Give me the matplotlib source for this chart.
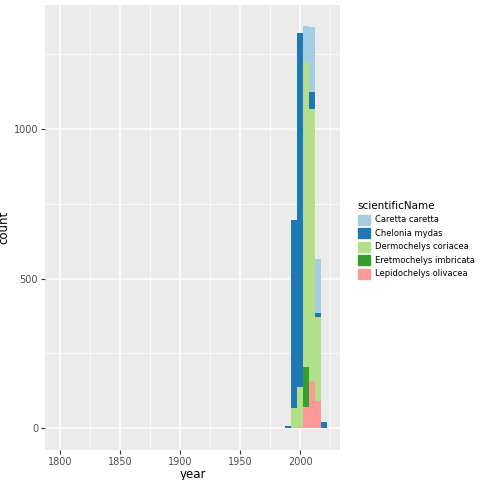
import numpy as np
import matplotlib.pyplot as plt

# histogram bins (5-year width), counts per species
bin_centers = [1800, 1990, 1995, 2000, 2005, 2010, 2015, 2020]
species = ['Caretta caretta', 'Chelonia mydas', 'Dermochelys coriacea',
           'Eretmochelys imbricata', 'Lepidochelys olivacea']
colors = ['#A6CEE3', '#1F78B4', '#B2DF8A', '#33A02C', '#FB9A99']

caretta = [0, 0, 0, 0, 119, 217, 178, 0]
chelonia = [0, 7, 628, 1184, 0, 57, 14, 21]
dermochelys = [2, 0, 68, 135, 1020, 910, 281, 0]
eretmochelys = [0, 0, 0, 0, 134, 0, 0, 0]
lepidochelys = [0, 0, 0, 3, 71, 158, 91, 0]

# ggplot stacks the first level on top, so draw from the last level upward
stack = [lepidochelys, eretmochelys, dermochelys, chelonia, caretta]
stack_colors = colors[::-1]

fig = plt.figure(figsize=(4.8, 4.8), dpi=100)
ax = fig.add_axes([45 / 480, 30 / 480, 295 / 480, 445 / 480])
ax.set_facecolor('#EBEBEB')

bottom = np.zeros(len(bin_centers))
for vals, col in zip(stack, stack_colors):
    ax.bar(bin_centers, vals, width=5, bottom=bottom, color=col, linewidth=0, zorder=3)
    bottom += np.array(vals)

ax.set_xlim(1787.5, 2033)
ax.set_ylim(-73, 1415)
ax.set_xticks([1800, 1850, 1900, 1950, 2000])
ax.set_yticks([0, 500, 1000])
ax.set_xticks([1825, 1875, 1925, 1975, 2025], minor=True)
ax.set_yticks([250, 750, 1250], minor=True)
ax.grid(which='major', color='white', linewidth=1.1, zorder=0)
ax.grid(which='minor', color='white', linewidth=0.5, zorder=0)
for s in ax.spines.values():
    s.set_visible(False)
ax.tick_params(which='major', length=3, pad=2, color='#333333', labelsize=7, labelcolor='#4D4D4D')
ax.tick_params(which='minor', length=0)
ax.set_xlabel('year', fontsize=8.5, labelpad=1)
ax.set_ylabel('count', fontsize=8.5, labelpad=2)

handles = [plt.Rectangle((0, 0), 1, 1, color=c) for c in colors]
fig.legend(handles, species, title='scientificName', loc='center left',
           bbox_to_anchor=(350 / 480, 0.5), frameon=False, fontsize=6,
           title_fontsize=7.5, handlelength=1.5, handleheight=1.5,
           handletextpad=0.6, labelspacing=0.4, alignment='left')

plt.savefig('out.png', dpi=100)
